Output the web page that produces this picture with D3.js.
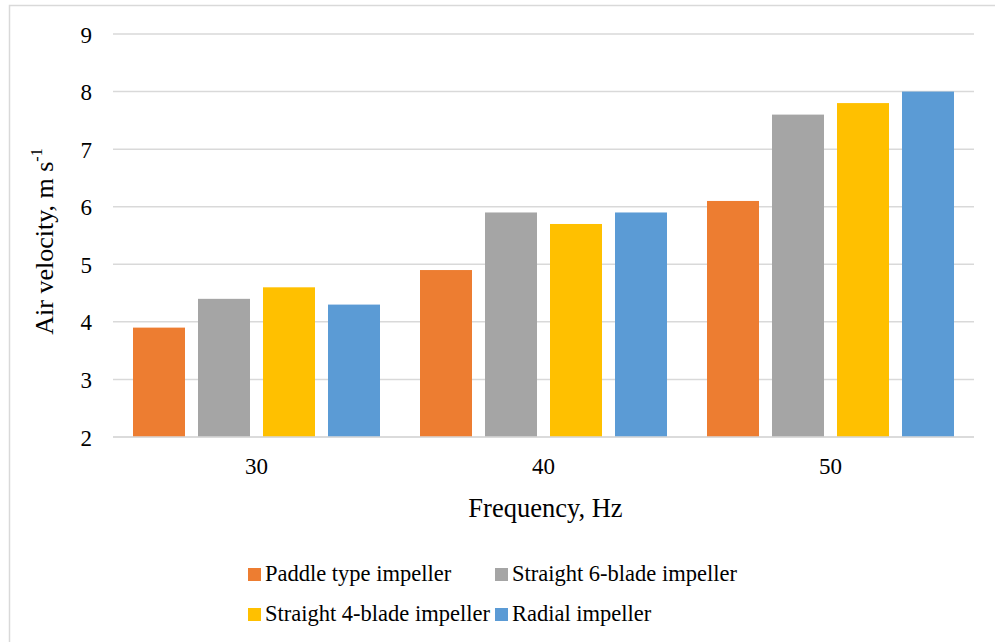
<!DOCTYPE html>
<html>
<head>
<meta charset="utf-8">
<script src="https://cdn.jsdelivr.net/npm/d3@7/dist/d3.min.js"></script>
<style>
  html, body { margin: 0; padding: 0; background: #fff; }
  svg { display: block; }
  svg text { font-family: "Liberation Serif", "Times New Roman", serif; }
</style>
</head>
<body>
<svg id="chart" width="995" height="642"></svg>
<script>
// Air velocity by supply frequency for four impeller types
const frequencies = ["30", "40", "50"];
const seriesNames = [
  "Paddle type impeller",
  "Straight 6-blade impeller",
  "Straight 4-blade impeller",
  "Radial impeller"
];
const paddleValues    = [3.9, 4.9, 6.1];
const straight6Values = [4.4, 5.9, 7.6];
const straight4Values = [4.6, 5.7, 7.8];
const radialValues    = [4.3, 5.9, 8.0];
const yTicks = [2, 3, 4, 5, 6, 7, 8, 9];
const seriesColors = ["#ED7D31", "#A5A5A5", "#FFC000", "#5B9BD5"];

const seriesValues = [paddleValues, straight6Values, straight4Values, radialValues];
const rows = frequencies.map((f, i) => ({
  freq: f,
  values: seriesNames.map((s, j) => ({ series: s, idx: j, value: seriesValues[j][i] }))
}));

const svg = d3.select("#chart");
const plot = { left: 113, right: 974, top: 34, bottom: 437 };

// Outer chart frame
svg.append("rect")
  .attr("x", 9.5).attr("y", 5.5)
  .attr("width", 1000).attr("height", 700)
  .attr("fill", "none").attr("stroke", "#d9d9d9").attr("stroke-width", 1.5);

const x0 = d3.scaleBand().domain(frequencies).range([plot.left, plot.right]).padding(0);
const groupInset = 13.5;
const x1 = d3.scaleBand().domain(seriesNames)
  .range([groupInset, x0.bandwidth() - groupInset])
  .paddingInner(0.2).paddingOuter(0.1);
const y = d3.scaleLinear().domain([2, 9]).range([plot.bottom, plot.top]);

// Horizontal gridlines
svg.append("g")
  .selectAll("line")
  .data(yTicks)
  .join("line")
  .attr("x1", plot.left).attr("x2", plot.right)
  .attr("y1", d => y(d)).attr("y2", d => y(d))
  .attr("stroke", "#d9d9d9").attr("stroke-width", 1.5);

// Y axis labels
const yAxis = svg.append("g")
  .attr("transform", `translate(${plot.left - 21},0)`)
  .call(d3.axisLeft(y).tickValues(yTicks).tickSize(0).tickPadding(0).tickFormat(d3.format("d")));
yAxis.attr("font-family", null);
yAxis.select(".domain").remove();
yAxis.selectAll("text")
  .attr("font-size", 23).attr("fill", "#000")
  .attr("dy", "0.35em");

// Bars
svg.append("g")
  .selectAll("g")
  .data(rows)
  .join("g")
  .attr("transform", d => `translate(${x0(d.freq)},0)`)
  .selectAll("rect")
  .data(d => d.values)
  .join("rect")
  .attr("x", d => x1(d.series))
  .attr("width", x1.bandwidth())
  .attr("y", d => y(d.value))
  .attr("height", d => y(2) - y(d.value))
  .attr("fill", d => seriesColors[d.idx]);

// Baseline redrawn over bars
svg.append("line")
  .attr("x1", plot.left).attr("x2", plot.right)
  .attr("y1", y(2)).attr("y2", y(2))
  .attr("stroke", "#d9d9d9").attr("stroke-width", 1.5);

// X axis labels
const xAxis = svg.append("g")
  .attr("transform", `translate(0,${plot.bottom})`)
  .call(d3.axisBottom(x0).tickSize(0).tickPadding(0));
xAxis.attr("font-family", null);
xAxis.select(".domain").remove();
xAxis.selectAll("text")
  .attr("font-size", 23).attr("fill", "#000")
  .attr("dy", null).attr("y", 37);

// Axis titles
svg.append("text")
  .attr("x", (plot.left + plot.right) / 2 + 2).attr("y", 517)
  .attr("text-anchor", "middle")
  .attr("font-size", 26.5).attr("fill", "#000")
  .text("Frequency, Hz");

const yTitle = svg.append("text")
  .attr("transform", `translate(53,${(plot.top + plot.bottom) / 2 + 6}) rotate(-90)`)
  .attr("text-anchor", "middle")
  .attr("font-size", 26).attr("fill", "#000");
yTitle.append("tspan").text("Air velocity, m s");
yTitle.append("tspan").attr("font-size", 16).attr("dy", "-0.7em").text("-1");

// Legend
const legendItems = [
  { name: seriesNames[0], color: seriesColors[0], x: 248, y: 581 },
  { name: seriesNames[1], color: seriesColors[1], x: 495, y: 581 },
  { name: seriesNames[2], color: seriesColors[2], x: 248, y: 621 },
  { name: seriesNames[3], color: seriesColors[3], x: 495, y: 621 }
];
const legend = svg.append("g")
  .selectAll("g")
  .data(legendItems)
  .join("g")
  .attr("transform", d => `translate(${d.x},${d.y})`);
legend.append("rect")
  .attr("x", 0).attr("y", -13)
  .attr("width", 13).attr("height", 13)
  .attr("fill", d => d.color);
legend.append("text")
  .attr("x", 17).attr("y", 0)
  .attr("font-size", 22.5).attr("fill", "#000")
  .text(d => d.name);
</script>
</body>
</html>
